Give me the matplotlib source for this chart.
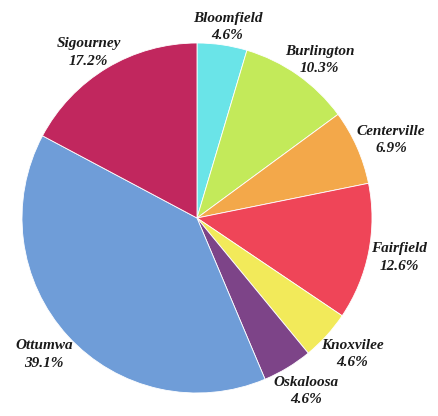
import numpy as np
import matplotlib.pyplot as plt

labels = ["Bloomfield", "Burlington", "Centerville", "Fairfield",
          "Knoxvilee", "Oskaloosa", "Ottumwa", "Sigourney"]
shares = [4.6, 10.3, 6.9, 12.6, 4.6, 4.6, 39.1, 17.2]
colors = ["#6ae4e8", "#c3ea5a", "#f3a84a", "#ef4558",
          "#f2ea5a", "#7d4488", "#6f9dd8", "#c1275e"]

W, H = 438, 416
cx, cy, rpx = 197, 218, 175

fig = plt.figure(figsize=(W / 100, H / 100), dpi=100)
ax = fig.add_axes([0, 0, 1, 1])

wedges, _ = ax.pie(shares, colors=colors, startangle=90, counterclock=False,
                   radius=1.0, wedgeprops=dict(edgecolor="white", linewidth=0.6))

ax.set_aspect("auto")
ax.set_xlim(-cx / rpx, (W - cx) / rpx)
ax.set_ylim(-(H - cy) / rpx, cy / rpx)
ax.axis("off")

renderer = fig.canvas.get_renderer()
r0 = 178.0 / rpx  # anchor just outside the rim

# label box placed outward from the slice mid angle, its inner edge at r0
for w, lab, s in zip(wedges, labels, shares):
    ang = np.deg2rad((w.theta1 + w.theta2) / 2)
    t = ax.text(0, 0, "{}\n{:.1f}%".format(lab, s), ha="center", va="center",
                fontsize=11, fontstyle="italic", fontweight="bold",
                family="Liberation Serif", color="#1a1a1a", linespacing=1.45)
    bb = t.get_window_extent(renderer)
    hw = bb.width / 2 / rpx
    hh = (bb.height / 2 if np.sin(ang) > 0 else bb.height * 0.8) / rpx
    t.set_position(((r0 + hw) * np.cos(ang), (r0 + hh) * np.sin(ang)))

fig.savefig("out.png", dpi=100)
